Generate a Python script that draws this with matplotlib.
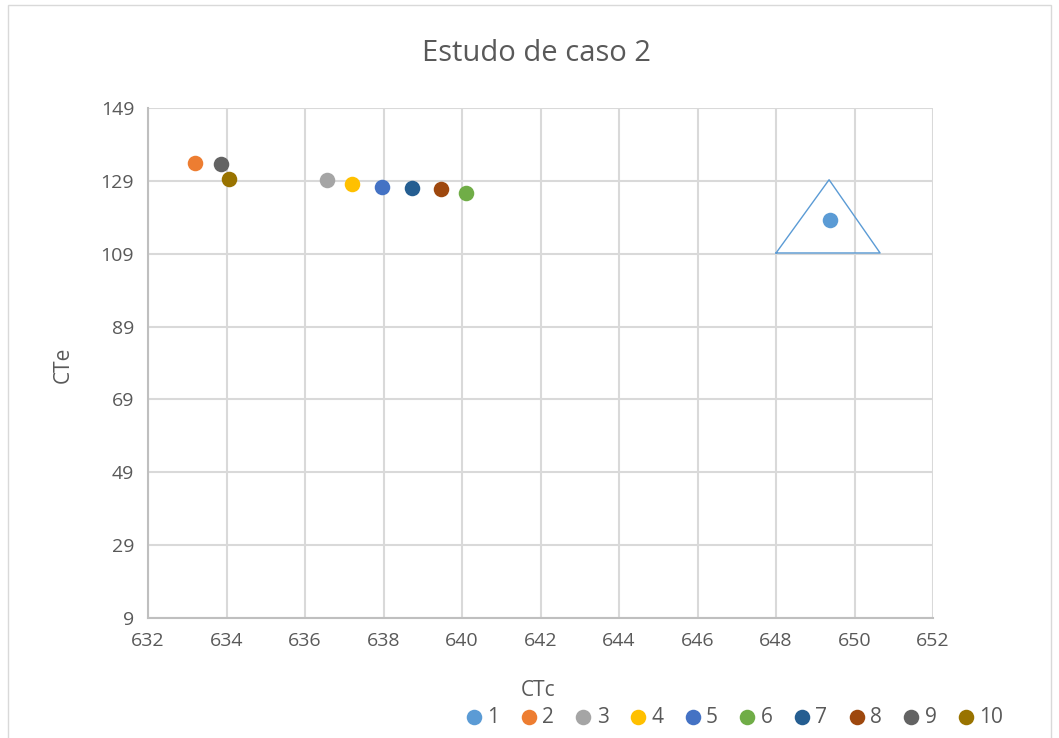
import matplotlib.pyplot as plt
from matplotlib.patches import Rectangle

# CTc / CTe values for the ten solutions
labels = ['1', '2', '3', '4', '5', '6', '7', '8', '9', '10']
ctc = [649.38, 633.20, 636.56, 637.20, 637.96, 640.10, 638.73, 639.46, 633.86, 634.06]
cte = [118.2, 133.9, 129.2, 128.1, 127.3, 125.6, 127.0, 126.7, 133.6, 129.5]
colors = ['#5B9BD5', '#ED7D31', '#A5A5A5', '#FFC000', '#4472C4',
          '#70AD47', '#255E91', '#9E480E', '#636363', '#997300']

# triangle drawn around solution 1
tri_x = [648.0, 649.35, 650.65, 648.0]
tri_y = [109.2, 129.3, 109.2, 109.2]

xticks = list(range(632, 653, 2))
yticks = list(range(9, 150, 20))

plt.rcParams['font.family'] = ['Open Sans', 'DejaVu Sans']
txt = '#595959'

fig = plt.figure(figsize=(10.59, 7.38), dpi=100)
ax = fig.add_axes([0.1398, 0.1626, 0.7413, 0.6911])

for i in range(len(labels)):
    ax.scatter(ctc[i], cte[i], s=125, color=colors[i], label=labels[i], zorder=3, linewidths=0)

ax.plot(tri_x, tri_y, color='#5B9BD5', lw=1, zorder=2)

ax.set_xlim(632, 652)
ax.set_ylim(9, 149)
ax.set_xticks(xticks)
ax.set_yticks(yticks)
ax.grid(True, color='#D9D9D9', lw=1.5, zorder=0)
ax.set_axisbelow(True)
ax.tick_params(length=0, labelsize=14, colors=txt, pad=10)
for s in ['top', 'right']:
    ax.spines[s].set_visible(False)
for s in ['left', 'bottom']:
    ax.spines[s].set_color('#BFBFBF')
    ax.spines[s].set_linewidth(1.5)

fig.text(0.508, 0.065, 'CTc', fontsize=15, color=txt, ha='center', va='center')
fig.text(0.060, 0.505, 'CTe', fontsize=15, color=txt, ha='center', va='center', rotation=90)
fig.text(0.507, 0.927, 'Estudo de caso 2', fontsize=21, color=txt, ha='center', va='center')

fig.legend(loc='center', bbox_to_anchor=(0.691, 0.028), ncol=10, frameon=False,
           fontsize=15, handletextpad=0.0, columnspacing=0.75, markerscale=1.0,
           labelcolor=txt, handlelength=1.3)

fig.patches.append(Rectangle((0.008, -0.01), 0.984, 1.003, transform=fig.transFigure,
                             fill=False, edgecolor='#D9D9D9', lw=1))

plt.savefig('out.png', dpi=100)
